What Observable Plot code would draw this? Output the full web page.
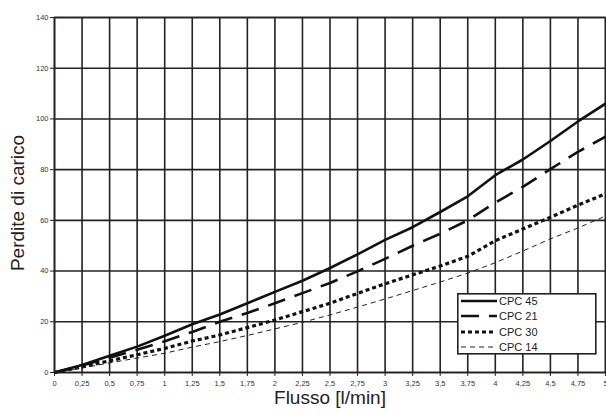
<!DOCTYPE html>
<html>
<head>
<meta charset="utf-8">
<script src="https://cdn.jsdelivr.net/npm/d3@7"></script>
<script src="https://cdn.jsdelivr.net/npm/@observablehq/plot@0.6"></script>
<style>
  html, body { margin: 0; padding: 0; background: #fff; }
  #wrap { position: relative; width: 606px; height: 415px; font-family: "Liberation Sans", Arial, sans-serif; }
  #legend { position: absolute; left: 457px; top: 293px; }
</style>
</head>
<body>
<div id="wrap"></div>
<script>
// ---- data ----
const flow = [0, 0.25, 0.5, 0.75, 1, 1.25, 1.5, 1.75, 2, 2.25, 2.5, 2.75, 3, 3.25, 3.5, 3.75, 4, 4.25, 4.5, 4.75, 5];
const cpc45 = [0, 3, 6.6, 10.2, 14.5, 19, 22.9, 27.3, 31.8, 36.2, 41.2, 46.6, 52.3, 57.3, 63.3, 69.5, 77.8, 84, 91.3, 99, 106];
const cpc21 = [0, 2.8, 5.8, 9, 12.3, 16, 20, 23.5, 27.3, 31.3, 35.3, 39.9, 44.8, 50, 54.7, 60, 67, 73.2, 80.2, 87, 93];
const cpc30 = [0, 2.2, 4.6, 7, 9.5, 12.4, 14.8, 17.7, 20.7, 24, 27.3, 31.2, 35, 38.5, 42, 45.8, 52, 56.6, 61.2, 66, 70.5];
const cpc14 = [0, 1.8, 3.8, 5.7, 7.6, 10, 12.2, 14.6, 17.2, 19.8, 22.7, 25.8, 29, 32.3, 35.7, 39.2, 43.3, 47.9, 52.7, 57, 61.7];
const seriesNames = ["CPC 45", "CPC 21", "CPC 30", "CPC 14"];
const xTicks = [0, 0.25, 0.5, 0.75, 1, 1.25, 1.5, 1.75, 2, 2.25, 2.5, 2.75, 3, 3.25, 3.5, 3.75, 4, 4.25, 4.5, 4.75, 5];
const yTicks = [0, 20, 40, 60, 80, 100, 120, 140];
const xTitle = "Flusso [l/min]";
const yTitle = "Perdite di carico";

// styles per series
const styles = [
  {stroke: "#111", strokeWidth: 2.6, strokeDasharray: null},
  {stroke: "#111", strokeWidth: 2.6, strokeDasharray: "18,10"},
  {stroke: "#111", strokeWidth: 3.2, strokeDasharray: "4,3"},
  {stroke: "#222", strokeWidth: 1, strokeDasharray: "5,4"}
];
const allValues = [cpc45, cpc21, cpc30, cpc14];
const tables = allValues.map((vals, i) => flow.map((f, j) => ({flow: f, loss: vals[j], series: seriesNames[i]})));

const fmt = d => String(d).replace(".", ",");

const plot = Plot.plot({
  width: 606,
  height: 415,
  marginLeft: 54,
  marginRight: 1,
  marginTop: 17,
  marginBottom: 43,
  style: {fontFamily: "'Liberation Sans', Arial, sans-serif", background: "#fff"},
  x: {domain: [0, 5]},
  y: {domain: [0, 140]},
  marks: [
    Plot.gridX(xTicks, {stroke: "#222", strokeOpacity: 1, strokeWidth: 1.6}),
    Plot.gridY(yTicks, {stroke: "#222", strokeOpacity: 1, strokeWidth: 1.6}),
    Plot.frame({stroke: "#222", strokeWidth: 1.6}),
    Plot.axisX(xTicks, {tickFormat: fmt, tickSize: 4, tickPadding: 4, fontSize: 7.5, fill: "#333", stroke: "#222", label: null}),
    Plot.axisY(yTicks, {tickSize: 4, tickPadding: 2, fontSize: 7.5, fill: "#333", stroke: "#222", label: null}),
    ...tables.map((t, i) => Plot.line(t, {x: "flow", y: "loss", ...styles[i], strokeLinecap: "butt"})),
    Plot.text([xTitle], {frameAnchor: "bottom", dy: 31, fontSize: 19, fill: "#222", textAnchor: "middle"}),
    Plot.text([yTitle], {frameAnchor: "left", dx: -37, dy: 8, rotate: -90, fontSize: 19, fill: "#222", textAnchor: "middle"})
  ]
});
const wrap = document.getElementById("wrap");
wrap.appendChild(plot);

// legend (inset box)
const lw = 138, lh = 60;
const leg = d3.create("svg").attr("id", "legend").attr("width", lw + 2).attr("height", lh + 2);
leg.append("rect").attr("x", 0.8).attr("y", 0.8).attr("width", lw).attr("height", lh)
  .attr("fill", "#fff").attr("stroke", "#222").attr("stroke-width", 1.6);
const rowY = [8, 23, 39, 54];
const sampleEnd = [40, 40, 36, 36];
seriesNames.forEach((name, i) => {
  const s = styles[i];
  const ln = leg.append("line").attr("x1", 4).attr("x2", sampleEnd[i]).attr("y1", rowY[i]).attr("y2", rowY[i])
    .attr("stroke", s.stroke).attr("stroke-width", s.strokeWidth);
  if (s.strokeDasharray) ln.attr("stroke-dasharray", s.strokeDasharray);
  leg.append("text").attr("x", 42).attr("y", rowY[i]).attr("dy", "0.35em")
    .attr("font-size", 11).attr("fill", "#222")
    .attr("font-family", "'Liberation Sans', Arial, sans-serif").text(name);
});
wrap.appendChild(leg.node());
</script>
</body>
</html>
